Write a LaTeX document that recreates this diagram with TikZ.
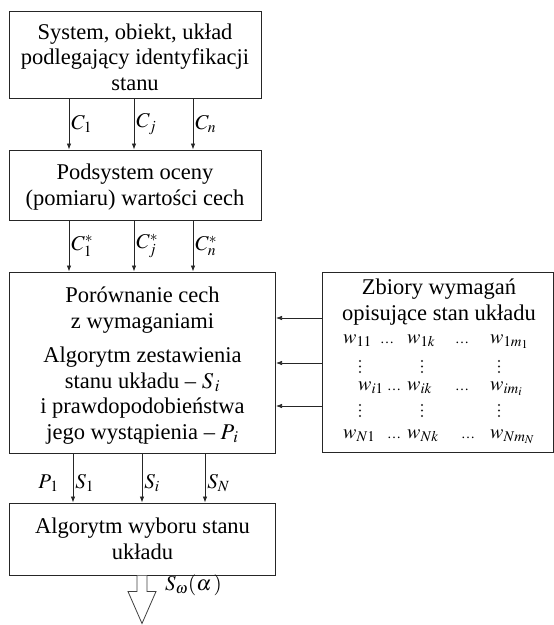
\documentclass[tikz,border=0pt]{standalone}
\usepackage{mathptmx}
\usepackage{fontspec}
\setmainfont{Liberation Serif}
\usetikzlibrary{arrows.meta,calc}
\tikzset{
  box/.style={draw=black!85, line width=1pt, rectangle, inner sep=0pt, align=center,
    font=\fontsize{22.5}{25.5}\selectfont},
  arr/.style={draw=black!85, line width=0.7pt, -{Latex[length=6pt,width=4.5pt]}},
  lab/.style={font=\fontsize{21}{24}\selectfont, inner sep=2pt},
  txt/.style={font=\fontsize{22.5}{25.5}\selectfont, inner sep=0pt, align=center},
  wt/.style={font=\fontsize{20}{24}\selectfont, inner sep=0pt, anchor=base west},
  dt/.style={font=\fontsize{14}{16}\selectfont, inner sep=0pt, anchor=base},
  hollow/.style={draw=black!75, line width=0.8pt, fill=white},
}
\begin{document}
\begin{tikzpicture}[x=1pt,y=-1pt]
\useasboundingbox (0,0) rectangle (554,625);
% main boxes
\node[box, minimum width=252pt, minimum height=87pt] (b1) at (135,54.5)
  {\rule{0pt}{21pt}System, obiekt, układ\\podlegający identyfikacji\\stanu};
\node[box, minimum width=252pt, minimum height=70pt] (b2) at (135,185)
  {\rule{0pt}{20pt}Podsystem oceny\\(pomiaru) wartości cech};
\node[box, minimum width=266pt, minimum height=181pt] (b3) at (142.5,362.5)
  {\rule{0pt}{22pt}Porównanie cech\\z wymaganiami\\[9pt]Algorytm zestawienia\\stanu układu -- $S_{\,i}$\\i prawdopodobieństwa\\jego wystąpienia -- $P_{\,i}$};
\node[box, minimum width=266pt, minimum height=72pt] (b4) at (142.5,539)
  {Algorytm wyboru stanu\\układu};
\node[box, minimum width=231pt, minimum height=180pt] (rb) at (437.5,362) {};
% right box contents
\node[txt] (rt) at (439,302) {Zbiory wymagań\\opisujące stan układu};
\node[wt] (w11) at (343,343) {$w_{11}$};
\node[dt] (e11) at (387,343) {\ldots};
\node[wt] (w1k) at (407,343) {$w_{1k}$};
\node[dt] (e12) at (462,343) {\ldots};
\node[wt] (w1m) at (490,343) {$w_{1m_1}$};
\node[wt] (wi1) at (358,390) {$w_{i1}$};
\node[dt] (ei1) at (394,390) {\ldots};
\node[wt] (wik) at (407,390) {$w_{ik}$};
\node[dt] (ei2) at (462,390) {\ldots};
\node[wt] (wim) at (490,390) {$w_{im_i}$};
\node[wt] (wN1) at (343,438) {$w_{N1}$};
\node[dt] (eN1) at (394,438) {\ldots};
\node[wt] (wNk) at (407,438) {$w_{Nk}$};
\node[dt] (eN2) at (468,438) {\ldots};
\node[wt] (wNm) at (490,438) {$w_{Nm_N}$};
\foreach \x in {360,422,499}{
  \foreach \y in {361,366.5,372,405,410.5,416}{
    \fill[black!85] (\x,\y) circle (1.15pt);
  }
}
% column coordinates
\coordinate (xa) at (69,0);
\coordinate (xb) at (134,0);
\coordinate (xc) at (193,0);
\coordinate (ya) at (73,0);
\coordinate (yb) at (142,0);
\coordinate (yc) at (205,0);
\coordinate (h1) at (0,318);
\coordinate (h2) at (0,363);
\coordinate (h3) at (0,406);
\coordinate (xo) at (142,0);
% arrows b1 -> b2
\draw[arr] (b1.south -| xa) -- node[lab,right]{$C_1$} (b2.north -| xa);
\draw[arr] (b1.south -| xb) -- node[lab,right]{$C_j$} (b2.north -| xb);
\draw[arr] (b1.south -| xc) -- node[lab,right]{$C_n$} (b2.north -| xc);
% arrows b2 -> b3
\draw[arr] (b2.south -| xa) -- node[lab,right]{$C_1^{*}$} (b3.north -| xa);
\draw[arr] (b2.south -| xb) -- node[lab,right]{$C_j^{*}$} (b3.north -| xb);
\draw[arr] (b2.south -| xc) -- node[lab,right]{$C_n^{*}$} (b3.north -| xc);
% arrows b3 -> b4
\draw[arr] (b3.south -| ya) -- node[lab,right,yshift=-5pt]{$S_1$} node[lab,left,yshift=-5pt,xshift=-12pt]{$P_{\,1}$} (b4.north -| ya);
\draw[arr] (b3.south -| yb) -- node[lab,right,yshift=-5pt]{$S_i$} (b4.north -| yb);
\draw[arr] (b3.south -| yc) -- node[lab,right,yshift=-5pt]{$S_N$} (b4.north -| yc);
% arrows rb -> b3
\draw[arr] (rb.west |- h1) -- (b3.east |- h1);
\draw[arr] (rb.west |- h2) -- (b3.east |- h2);
\draw[arr] (rb.west |- h3) -- (b3.east |- h3);
% hollow output arrow
\draw[hollow] ($(b4.south -| xo)+(-5,0)$) -- ++(0,16) -- ++(-9,0) -- ++(14,32) -- ++(14,-32) -- ++(-9,0) -- ++(0,-16);
\node[lab, anchor=west] (sw) at (163,585) {$S_\omega(\alpha\mkern2mu)$};
\end{tikzpicture}
\end{document}
